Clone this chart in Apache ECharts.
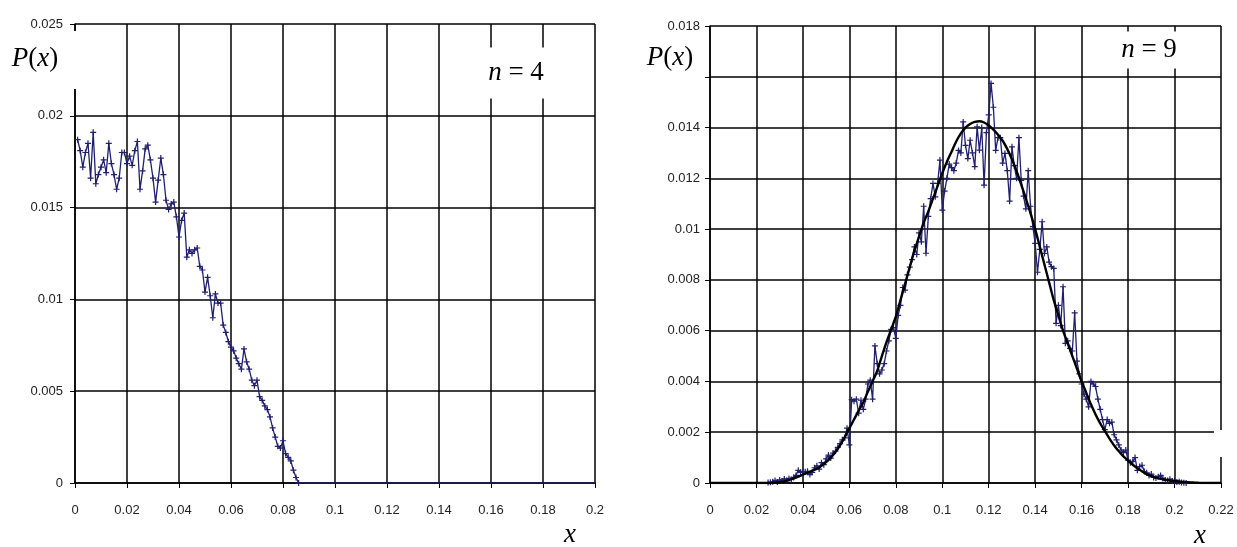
<!DOCTYPE html>
<html><head><meta charset="utf-8">
<script src="https://cdn.jsdelivr.net/npm/echarts@6/dist/echarts.min.js"></script>
<style>html,body{margin:0;padding:0;background:#fff}#c{width:1237px;height:547px}</style>
</head><body><div id="c"></div>
<script>
// ---------- data ----------
const binStep = 0.001;            // histogram bin width
// left panel (n = 4): measured P(x), bins 1..86
const leftFirstBin = 1;
const leftValues = [
 0.0187,0.0181,0.0172,0.0180,0.0185,0.0166,0.0191,0.0163,0.0168,0.0172,
 0.0176,0.0169,0.0185,0.0174,0.0168,0.0160,0.0166,0.0180,0.0180,0.0174,
 0.0178,0.0173,0.0181,0.0186,0.0160,0.0170,0.0182,0.0184,0.0176,0.0166,
 0.0153,0.0165,0.0177,0.0168,0.0154,0.0149,0.0152,0.0153,0.0145,0.0134,
 0.0143,0.0147,0.0123,0.0127,0.0125,0.0127,0.0128,0.0118,0.0116,0.0104,
 0.0112,0.0102,0.0090,0.0103,0.0098,0.0098,0.0086,0.0082,0.0077,0.0074,
 0.0072,0.0068,0.0065,0.0062,0.0073,0.0066,0.0062,0.0056,0.0053,0.0056,
 0.0047,0.0045,0.0042,0.0040,0.0036,0.0030,0.0025,0.0020,0.0019,0.0023,
 0.0016,0.0014,0.0012,0.0007,0.0003,0.0000];
const leftTailX = [0.086, 0.2];
const leftTailY = [0, 0];

// right panel (n = 9): measured P(x), bins 25..205
const rightFirstBin = 25;
const rightValues = [
 0.00002,0.00003,0.00005,0.00010,0.00004,0.00012,0.00008,0.00016,0.00010,0.00018,
 0.00014,0.00022,0.00030,0.00050,0.00042,0.00045,0.00044,0.00046,0.00033,0.00042,
 0.00060,0.00068,0.00055,0.00080,0.00072,0.00095,0.00110,0.00098,0.00118,0.00125,
 0.00140,0.00155,0.00170,0.00178,0.00216,0.00150,0.00328,0.00322,0.00330,0.00275,
 0.00326,0.00290,0.00330,0.00390,0.00405,0.00330,0.00540,0.00470,0.00430,0.00445,
 0.00470,0.00520,0.00560,0.00605,0.00612,0.00570,0.00660,0.00700,0.00770,0.00760,
 0.00820,0.00850,0.00880,0.00930,0.00900,0.00985,0.00950,0.01090,0.00905,0.01050,
 0.01120,0.01180,0.01127,0.01180,0.01272,0.01075,0.01150,0.01200,0.01256,0.01242,
 0.01230,0.01260,0.01310,0.01300,0.01422,0.01330,0.01278,0.01350,0.01300,0.01246,
 0.01403,0.01311,0.01400,0.01173,0.01380,0.01450,0.01574,0.01480,0.01310,0.01360,
 0.01360,0.01260,0.01298,0.01230,0.01110,0.01324,0.01250,0.01200,0.01360,0.01192,
 0.01130,0.01080,0.01230,0.01090,0.01010,0.00944,0.00830,0.00920,0.01029,0.00904,
 0.00930,0.00870,0.00852,0.00845,0.00629,0.00700,0.00620,0.00773,0.00550,0.00560,
 0.00530,0.00520,0.00670,0.00480,0.00430,0.00390,0.00350,0.00330,0.00300,0.00400,
 0.00390,0.00380,0.00330,0.00290,0.00250,0.00210,0.00250,0.00235,0.00240,0.00190,
 0.00170,0.00150,0.00130,0.00120,0.00130,0.00090,0.00080,0.00085,0.00100,0.00050,
 0.00065,0.00070,0.00045,0.00040,0.00030,0.00035,0.00022,0.00020,0.00025,0.00030,
 0.00018,0.00012,0.00010,0.00015,0.00008,0.00006,0.00004,0.00005,0.00002,0.00001,
 0];

// right panel: theoretical curve, every 0.002 from 0 to 0.22
const curveStep = 0.002;
const curveValues = [
 0,0,0,0,0,0,0,0,0,0,0,0,0,0,
 0.00001,0.00003,0.00006,0.00011,0.00018,0.00025,0.00033,0.00040,0.00048,0.00056,
 0.00068,0.00082,0.00100,0.00122,0.00148,0.00180,0.00216,0.00250,0.00285,0.00318,
 0.00360,0.00400,0.00442,0.00500,0.00555,0.00605,0.00655,0.00720,0.00785,0.00850,
 0.00915,0.00970,0.01025,0.01070,0.01120,0.01170,0.01220,0.01265,0.01305,0.01345,
 0.01377,0.01400,0.01414,0.01422,0.01425,0.01420,0.01408,0.01392,0.01372,0.01348,
 0.01315,0.01275,0.01228,0.01175,0.01120,0.01062,0.01000,0.00930,0.00860,0.00790,
 0.00720,0.00660,0.00600,0.00550,0.00500,0.00450,0.00400,0.00355,0.00310,0.00270,
 0.00235,0.00205,0.00175,0.00148,0.00125,0.00105,0.00088,0.00072,0.00058,0.00046,
 0.00035,0.00027,0.00021,0.00016,0.00013,0.00010,0.00008,0.00006,0.00004,0.00003,
 0.00002,0.00001,
 0,0,0,0,0];

// ---------- build ----------
const r4 = v => Math.round(v * 10000) / 10000;
const leftData = leftValues.map((v, i) => [r4((leftFirstBin + i) * binStep), v]);
const leftTail = leftTailX.map((x, i) => [x, leftTailY[i]]);
const rightData = rightValues.map((v, i) => [r4((rightFirstBin + i) * binStep), v]);
const curveData = curveValues.map((v, i) => [r4(i * curveStep), v]);

const NAVY = '#1f1f6e';
const PLUS = 'path://M2,0h1v2h2v1h-2v2h-1v-2h-2v-1h2z';
const labelStyle = { color: '#222', fontFamily: 'Liberation Sans', fontSize: 13 };

function xAx(gi, max) {
  return { type: 'value', gridIndex: gi, min: 0, max: max, interval: 0.02,
    axisLine: { show: true, onZero: false, lineStyle: { color: '#000', width: 1.5 } },
    axisTick: { show: true, length: 5, lineStyle: { color: '#000', width: 1 } },
    splitLine: { show: true, lineStyle: { color: '#000', width: 1.5 } },
    axisLabel: Object.assign({ margin: 21 }, labelStyle) };
}
function yAx(gi, max, interval, margin) {
  return { type: 'value', gridIndex: gi, min: 0, max: max, interval: interval,
    axisLine: { show: true, onZero: false, lineStyle: { color: '#000', width: 1.5 } },
    axisTick: { show: true, length: 5, lineStyle: { color: '#000', width: 1 } },
    splitLine: { show: true, lineStyle: { color: '#000', width: 1.5 } },
    axisLabel: Object.assign({ margin: margin }, labelStyle) };
}

const serif = 'Liberation Serif';
function px(text, x, y, extra) {
  return Object.assign({ type: 'text', x: x, y: y, z: 100,
    style: Object.assign({ text: text, font: '27px "Liberation Serif"', fill: '#000',
      align: 'center', verticalAlign: 'middle',
      rich: { i: { fontFamily: serif, fontSize: 27, fontStyle: 'italic' },
              n: { fontFamily: serif, fontSize: 27 } } }, extra || {}) });
}

const chart = echarts.init(document.getElementById('c'), null, { renderer: 'canvas' });
chart.setOption({
  animation: false,
  backgroundColor: '#fff',
  grid: [
    { left: 75, right: 642, top: 24, bottom: 64, containLabel: false, outerBoundsMode: 'none' },
    { left: 710, right: 16, top: 26, bottom: 64, containLabel: false, outerBoundsMode: 'none' }
  ],
  xAxis: [xAx(0, 0.2), xAx(1, 0.22)],
  yAxis: [yAx(0, 0.025, 0.005, 12), yAx(1, 0.018, 0.002, 10)],
  series: [
    { type: 'line', xAxisIndex: 0, yAxisIndex: 0, data: leftData, symbol: PLUS, symbolSize: 6,
      showSymbol: true, itemStyle: { color: NAVY }, lineStyle: { color: NAVY, width: 1.3 }, z: 3 },
    { type: 'line', xAxisIndex: 0, yAxisIndex: 0, data: leftTail, symbol: 'none',
      lineStyle: { color: NAVY, width: 1.5 }, z: 3 },
    { type: 'line', xAxisIndex: 1, yAxisIndex: 1, data: rightData, symbol: PLUS, symbolSize: 6,
      showSymbol: true, itemStyle: { color: NAVY }, lineStyle: { color: NAVY, width: 1.3 }, z: 3 },
    { type: 'line', xAxisIndex: 1, yAxisIndex: 1, data: curveData, symbol: 'none', smooth: 0.3,
      lineStyle: { color: '#000', width: 2.4 }, z: 4 }
  ],
  graphic: [
    { type: 'rect', shape: { x: 0, y: 31, width: 79, height: 58 }, style: { fill: '#fff' }, z: 90 },
    { type: 'rect', shape: { x: 634, y: 38, width: 70, height: 52 }, style: { fill: '#fff' }, z: 90 },
    { type: 'rect', shape: { x: 1214, y: 430, width: 14, height: 27 }, style: { fill: '#fff' }, z: 90 },
    px('{i|P}{n|(}{i|x}{n|)}', 35, 59),
    px('{i|P}{n|(}{i|x}{n|)}', 670, 58),
    px('{i|n}{n| = 4}', 516, 73, { backgroundColor: '#fff', padding: [12, 8, 12, 8] }),
    px('{i|n}{n| = 9}', 1149, 50, { backgroundColor: '#fff', padding: [5, 8, 5, 8] }),
    px('{i|x}', 570, 535),
    px('{i|x}', 1200, 536)
  ]
});
</script></body></html>
